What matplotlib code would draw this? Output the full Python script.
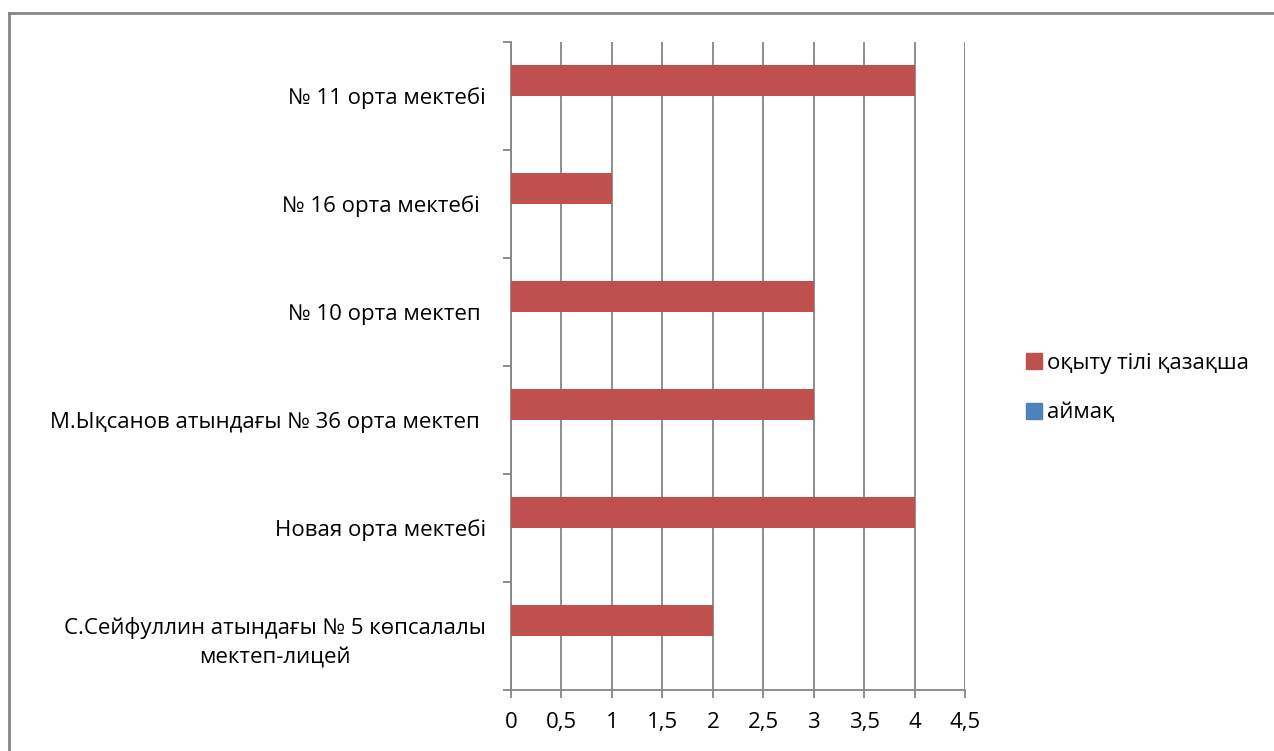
import numpy as np
import matplotlib
matplotlib.use("Agg")
import matplotlib.pyplot as plt
from matplotlib.lines import Line2D

plt.rcParams['font.family'] = ['Open Sans', 'Noto Sans', 'DejaVu Sans']

# data, bottom category first (as in the Excel chart)
schools = ["С.Сейфуллин атындағы № 5 көпсалалы\nмектеп-лицей",
           "Новая орта мектебі",
           "М.Ықсанов атындағы № 36 орта мектеп ",
           "№ 10 орта мектеп ",
           "№ 16 орта мектебі ",
           "№ 11 орта мектебі"]
kazakh_lang = [2, 4, 3, 3, 1, 4]
region = [0, 0, 0, 0, 0, 0]
series_names = ["оқыту тілі қазақша", "аймақ"]
xticks = [0, 0.5, 1, 1.5, 2, 2.5, 3, 3.5, 4, 4.5]
xtick_labels = ["0", "0,5", "1", "1,5", "2", "2,5", "3", "3,5", "4", "4,5"]

red = "#C0504D"
blue = "#4F81BD"
grey = "#868686"
fs = 16

fig = plt.figure(figsize=(12.74, 7.51), dpi=100)
ax = fig.add_axes([511/1274, 1 - 690/751, (965-511)/1274, (690-42)/751])

y = np.arange(len(schools))
h = 1/3.5
ax.barh(y - h/2, region, height=h, color=blue, zorder=3)
ax.barh(y + h/2, kazakh_lang, height=h, color=red, zorder=3)

ax.set_xlim(0, 4.5)
ax.set_ylim(-0.5, len(schools) - 0.5)
ax.set_xticks(xticks)
ax.set_xticklabels(xtick_labels, fontsize=fs)
ax.xaxis.grid(True, color=grey, linewidth=1.3, zorder=0)

# category labels centred in slots, ticks on slot boundaries
ax.set_yticks(y)
ax.set_yticklabels(schools, fontsize=fs, ha="right", multialignment="center", linespacing=1.5)
ax.set_yticks(np.arange(-0.5, len(schools)), minor=True)
ax.tick_params(axis="y", which="major", length=0, pad=18)
ax.tick_params(axis="y", which="minor", length=6, color=grey, width=1.3)
ax.tick_params(axis="x", length=6, color=grey, width=1.3, pad=10)

for s in ["top", "right"]:
    ax.spines[s].set_visible(False)
for s in ["left", "bottom"]:
    ax.spines[s].set_color(grey)
    ax.spines[s].set_linewidth(1.3)

handles = [Line2D([], [], marker="s", linestyle="none", markersize=11, color=red),
           Line2D([], [], marker="s", linestyle="none", markersize=11, color=blue)]
fig.legend(handles, series_names, loc="center left", bbox_to_anchor=(1005/1274, 1 - 388/751),
           frameon=False, fontsize=fs, handletextpad=0.2, labelspacing=1.3, handlelength=0.8)

# chart area border (only top and left edges visible)
fig.add_artist(Line2D([9/1274, 9/1274], [0, 1 - 13/751], color=grey, linewidth=2, transform=fig.transFigure))
fig.add_artist(Line2D([9/1274, 1], [1 - 13/751, 1 - 13/751], color=grey, linewidth=2, transform=fig.transFigure))

fig.savefig("out.png", dpi=100)
